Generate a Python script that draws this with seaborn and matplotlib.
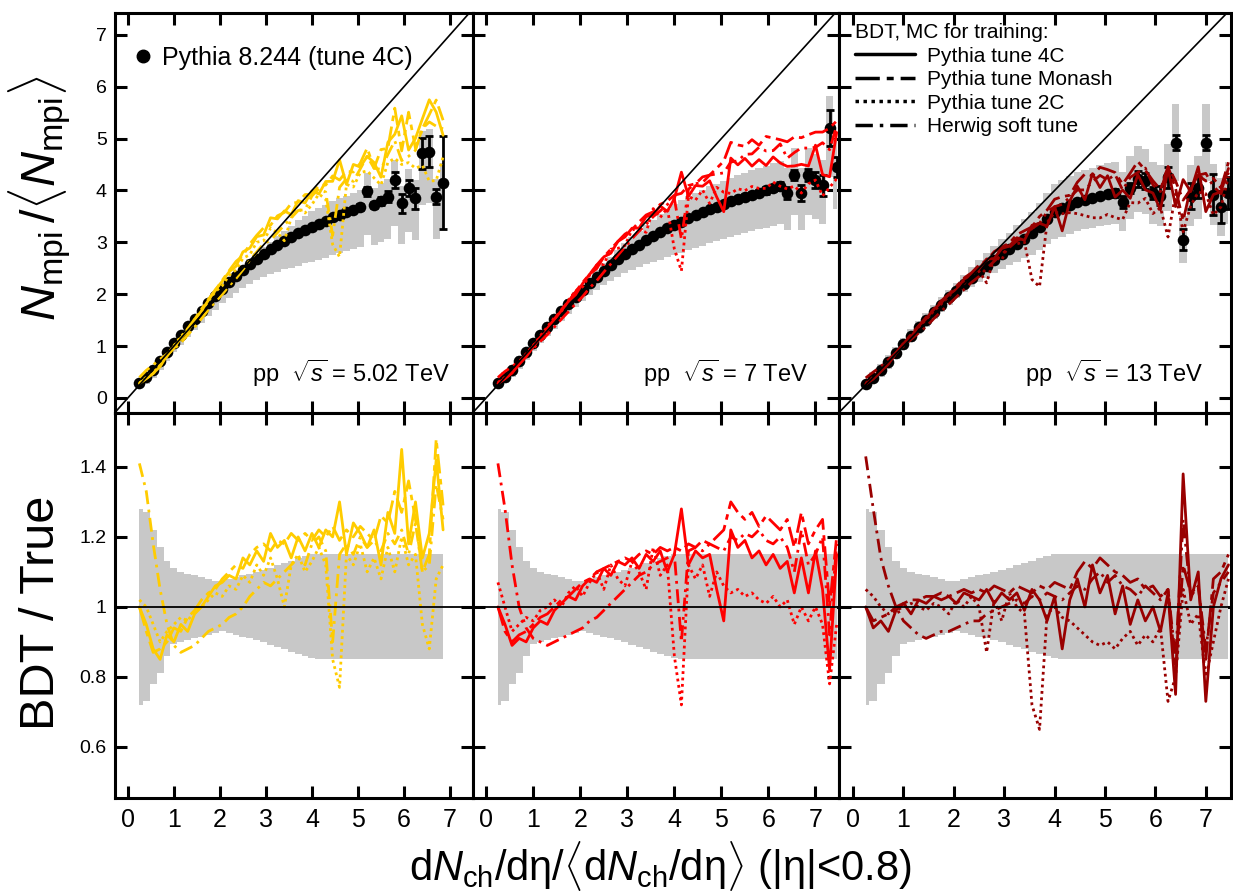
import numpy as np
import matplotlib
matplotlib.use("Agg")
import matplotlib.pyplot as plt
import seaborn as sns
from matplotlib.lines import Line2D

# bin centres of dNch/deta / <dNch/deta>
x_bins = [0.25, 0.40, 0.55, 0.70, 0.85, 1.00, 1.15, 1.30, 1.45, 1.60,
          1.75, 1.90, 2.05, 2.20, 2.35, 2.50, 2.65, 2.80, 2.95, 3.10,
          3.25, 3.40, 3.55, 3.70, 3.85, 4.00, 4.15, 4.30, 4.45, 4.60,
          4.75, 4.90, 5.05, 5.20, 5.35, 5.50, 5.65, 5.80, 5.95, 6.10,
          6.25, 6.40, 6.55, 6.70, 6.85, 7.00, 7.15, 7.30, 7.45]

# relative systematic band (BDT / True)
band_hi = [1.28, 1.27, 1.22, 1.17, 1.13, 1.11, 1.10, 1.095, 1.09, 1.085,
           1.08, 1.075, 1.075, 1.08, 1.085, 1.09, 1.095, 1.10, 1.105, 1.11,
           1.12, 1.125, 1.13, 1.14, 1.145, 1.15, 1.15, 1.15, 1.15, 1.15,
           1.15, 1.15, 1.15, 1.15, 1.15, 1.15, 1.15, 1.15, 1.15, 1.15,
           1.15, 1.15, 1.15, 1.15, 1.15, 1.15, 1.15, 1.15, 1.15]
band_lo = [0.72, 0.73, 0.78, 0.81, 0.86, 0.895, 0.90, 0.905, 0.91, 0.915,
           0.92, 0.925, 0.93, 0.925, 0.92, 0.915, 0.91, 0.905, 0.90, 0.89,
           0.885, 0.88, 0.87, 0.865, 0.86, 0.855, 0.85, 0.85, 0.85, 0.85,
           0.85, 0.85, 0.85, 0.85, 0.85, 0.85, 0.85, 0.85, 0.85, 0.85,
           0.85, 0.85, 0.85, 0.85, 0.85, 0.85, 0.85, 0.85, 0.85]

# ---- pp 5.02 TeV ----
truth_502 = [0.28, 0.40, 0.54, 0.71, 0.89, 1.06, 1.22, 1.38, 1.53, 1.68,
             1.83, 1.97, 2.10, 2.23, 2.35, 2.47, 2.58, 2.68, 2.78, 2.87,
             2.95, 3.03, 3.10, 3.17, 3.24, 3.30, 3.36, 3.42, 3.48, 3.53,
             3.58, 3.63, 3.68, 3.98, 3.72, 3.80, 3.88, 4.20, 3.75, 4.05,
             3.85, 4.72, 4.75, 3.88, 4.15]
err_502 = [0, 0, 0, 0, 0, 0, 0, 0, 0, 0,
           0, 0, 0, 0, 0, 0, 0, 0, 0, 0,
           0, 0, 0, 0, 0, 0.02, 0.02, 0.03, 0.03, 0.03,
           0.04, 0.04, 0.05, 0.08, 0.06, 0.08, 0.10, 0.15, 0.18, 0.15,
           0.20, 0.30, 0.30, 0.15, 0.90]
r502_4c = [1.00, 0.95, 0.88, 0.85, 0.92, 0.90, 0.95, 0.93, 0.98, 1.00,
           1.03, 1.06, 1.07, 1.09, 1.08, 1.14, 1.12, 1.16, 1.13, 1.21,
           1.17, 1.19, 1.14, 1.20, 1.16, 1.21, 1.17, 1.22, 1.20, 1.30,
           1.15, 1.24, 1.21, 1.17, 1.22, 1.12, 1.27, 1.21, 1.45, 1.18,
           1.30, 1.14, 1.21, 1.42, 1.22]
r502_monash = [1.00, 0.93, 0.87, 0.88, 0.90, 0.94, 0.93, 0.97, 0.99, 1.02,
               1.04, 1.05, 1.08, 1.10, 1.12, 1.11, 1.15, 1.17, 1.18, 1.16,
               1.19, 1.18, 1.21, 1.19, 1.21, 1.19, 1.22, 1.20, 1.23, 1.19,
               1.22, 1.20, 1.23, 1.21, 1.19, 1.26, 1.24, 1.33, 1.27, 1.36,
               1.25, 1.10, 1.15, 1.48, 1.29]
r502_2c = [1.02, 1.00, 0.95, 0.90, 0.93, 0.95, 0.97, 0.96, 0.99, 1.00,
           1.02, 1.04, 1.03, 1.06, 1.05, 1.09, 1.07, 1.12, 1.09, 1.14,
           1.08, 1.00, 1.12, 1.15, 1.10, 1.13, 1.17, 1.12, 0.85, 0.77,
           1.15, 1.12, 1.18, 1.10, 1.14, 1.08, 1.17, 1.10, 1.20, 1.12,
           1.15, 0.95, 0.88, 1.08, 1.12]
r502_herwig = [1.41, 1.33, 1.18, 1.05, 0.95, 0.89, 0.87, 0.88, 0.89, 0.91,
               0.93, 0.94, 0.95, 0.97, 0.98, 1.00, 1.03, 1.05, 1.07, 1.06,
               1.08, 1.10, 1.12, 1.14, 1.12, 1.18, 1.20, 1.16, 0.90, 1.15,
               1.18, 1.15, 1.20, 1.17, 1.19, 1.16, 1.21, 1.18, 1.22, 1.15,
               1.24, 1.10, 1.12, 1.35, 1.25]

# ---- pp 7 TeV ----
truth_7 = [0.28, 0.40, 0.54, 0.71, 0.88, 1.05, 1.21, 1.37, 1.52, 1.67,
           1.81, 1.95, 2.08, 2.21, 2.33, 2.45, 2.56, 2.67, 2.77, 2.87,
           2.95, 3.04, 3.12, 3.19, 3.27, 3.34, 3.40, 3.47, 3.53, 3.58,
           3.64, 3.69, 3.74, 3.79, 3.84, 3.88, 3.92, 3.96, 4.00, 4.04,
           4.08, 3.95, 4.30, 3.95, 4.30, 4.20, 4.10, 5.20, 4.45]
err_7 = [0, 0, 0, 0, 0, 0, 0, 0, 0, 0,
         0, 0, 0, 0, 0, 0, 0, 0, 0, 0,
         0, 0, 0, 0, 0, 0.02, 0.02, 0.02, 0.03, 0.03,
         0.03, 0.03, 0.04, 0.04, 0.04, 0.05, 0.05, 0.05, 0.06, 0.06,
         0.08, 0.12, 0.10, 0.15, 0.12, 0.15, 0.20, 0.35, 0.20]
r7_4c = [1.00, 0.95, 0.89, 0.91, 0.90, 0.94, 0.96, 0.95, 0.99, 1.01,
         1.03, 1.02, 1.06, 1.08, 1.07, 1.11, 1.09, 1.13, 1.12, 1.14,
         1.11, 1.15, 1.13, 1.16, 1.10, 1.15, 1.28, 1.12, 1.16, 1.14,
         1.15, 1.05, 0.96, 1.22, 1.17, 1.19, 1.14, 1.16, 1.12, 1.15,
         1.11, 1.13, 1.04, 1.14, 1.04, 1.16, 1.05, 0.82, 1.15]
r7_monash = [1.00, 0.93, 0.90, 0.92, 0.93, 0.95, 0.97, 0.98, 1.00, 1.02,
             1.03, 1.05, 1.07, 1.08, 1.10, 1.11, 1.12, 1.13, 1.14, 1.13,
             1.15, 1.16, 1.15, 1.17, 1.16, 1.17, 1.16, 1.18, 1.17, 1.19,
             1.18, 1.20, 1.22, 1.30, 1.27, 1.25, 1.27, 1.23, 1.26, 1.24,
             1.22, 1.25, 1.17, 1.27, 1.18, 1.22, 1.25, 1.00, 1.20]
r7_2c = [1.07, 1.00, 0.93, 0.95, 0.97, 0.96, 0.99, 1.00, 1.02, 1.00,
         1.04, 1.06, 1.03, 1.07, 1.10, 1.05, 1.12, 1.08, 1.06, 1.13,
         1.10, 1.05, 1.17, 1.09, 1.12, 0.86, 0.72, 1.12, 1.08, 1.12,
         1.03, 1.10, 1.06, 1.04, 1.05, 1.03, 1.04, 1.02, 1.01, 1.03,
         1.00, 1.02, 0.95, 1.00, 0.96, 1.00, 0.95, 0.78, 0.95]
r7_herwig = [1.41, 1.28, 1.12, 1.00, 0.94, 0.91, 0.90, 0.89, 0.90, 0.91,
             0.92, 0.93, 0.94, 0.96, 0.97, 0.99, 1.01, 1.03, 1.05, 1.07,
             1.09, 1.10, 1.12, 1.13, 1.14, 1.15, 0.90, 1.16, 1.17, 1.16,
             1.18, 1.17, 1.16, 1.20, 1.19, 1.21, 1.20, 1.22, 1.19, 1.18,
             1.20, 1.17, 1.10, 1.22, 1.12, 1.15, 1.20, 0.92, 1.18]

# ---- pp 13 TeV ----
truth_13 = [0.27, 0.39, 0.53, 0.70, 0.87, 1.04, 1.20, 1.36, 1.51, 1.66,
            1.80, 1.94, 2.07, 2.20, 2.32, 2.44, 2.55, 2.66, 2.77, 2.87,
            2.97, 3.07, 3.17, 3.30, 3.45, 3.58, 3.66, 3.72, 3.78, 3.82,
            3.86, 3.90, 3.93, 3.95, 3.78, 4.05, 4.22, 4.18, 3.95, 3.90,
            4.25, 4.92, 3.05, 3.90, 4.05, 4.92, 3.92, 3.68, 3.95]
err_13 = [0, 0, 0, 0, 0, 0, 0, 0, 0, 0,
          0, 0, 0, 0, 0, 0, 0, 0, 0, 0,
          0, 0, 0, 0, 0, 0.02, 0.02, 0.03, 0.03, 0.04,
          0.04, 0.05, 0.06, 0.08, 0.12, 0.10, 0.15, 0.15, 0.12, 0.18,
          0.20, 0.15, 0.20, 0.25, 0.20, 0.15, 0.40, 0.30, 0.30]
r13_4c = [1.00, 0.94, 0.96, 0.93, 0.99, 1.01, 0.98, 1.02, 1.01, 1.03,
          1.02, 1.03, 1.01, 1.04, 1.03, 1.02, 1.05, 1.01, 1.04, 1.02,
          1.04, 0.99, 1.05, 1.02, 0.96, 1.03, 0.88, 1.02, 1.08, 1.00,
          1.12, 1.04, 1.09, 0.98, 1.06, 0.95, 1.02, 0.96, 1.00, 0.93,
          1.04, 0.75, 1.38, 1.02, 1.10, 0.73, 1.00, 1.08, 1.12]
r13_monash = [1.00, 0.96, 0.97, 0.98, 1.00, 1.01, 1.02, 1.02, 1.03, 1.03,
              1.04, 1.03, 1.04, 1.05, 1.04, 1.05, 1.04, 1.06, 1.05, 1.04,
              1.06, 1.05, 1.04, 1.06, 1.05, 1.07, 1.06, 1.05, 1.10, 1.13,
              1.11, 1.14, 1.12, 1.10, 1.09, 1.07, 1.08, 1.05, 1.06, 1.03,
              1.05, 0.82, 1.12, 1.04, 1.06, 0.85, 1.08, 1.10, 1.15]
r13_2c = [1.05, 1.03, 1.00, 0.98, 0.99, 1.00, 1.01, 1.00, 0.99, 1.01,
          1.00, 0.98, 1.02, 1.00, 1.03, 1.00, 0.87, 1.02, 0.96, 1.04,
          1.00, 0.98, 0.72, 0.65, 0.98, 1.00, 0.97, 0.96, 0.94, 0.92,
          0.90, 0.89, 0.90, 0.88, 0.91, 0.93, 0.89, 0.92, 0.90, 0.94,
          0.73, 0.80, 1.05, 0.95, 0.98, 0.80, 0.90, 1.00, 1.08]
r13_herwig = [1.43, 1.28, 1.14, 1.06, 1.00, 0.96, 0.94, 0.92, 0.91, 0.92,
              0.93, 0.93, 0.94, 0.95, 0.96, 0.96, 0.98, 0.99, 1.00, 1.01,
              1.02, 1.01, 1.03, 1.02, 1.04, 1.03, 1.02, 1.04, 1.06, 1.05,
              1.08, 1.10, 1.07, 1.09, 1.06, 1.05, 1.03, 1.06, 1.04, 1.02,
              1.05, 0.85, 1.25, 1.03, 1.06, 0.88, 1.04, 1.07, 1.10]

tune_names = ["Pythia tune 4C", "Pythia tune Monash", "Pythia tune 2C", "Herwig soft tune"]
tune_styles = ["-", (0, (7, 2, 2, 2)), (0, (1, 1.3)), (0, (5, 2, 1, 2))]

panels = [
    dict(label="5.02", color="#ffcc00", truth=truth_502, err=err_502,
         ratios=[r502_4c, r502_monash, r502_2c, r502_herwig], shift=0.06, tx=0.935),
    dict(label="7", color="#ff0000", truth=truth_7, err=err_7,
         ratios=[r7_4c, r7_monash, r7_2c, r7_herwig], shift=0.03, tx=0.915),
    dict(label="13", color="#990000", truth=truth_13, err=err_13,
         ratios=[r13_4c, r13_monash, r13_2c, r13_herwig], shift=0.0, tx=0.93),
]

GRAY = "#c8c8c8"
FONT = ["Liberation Sans", "DejaVu Sans"]

sns.set_style("ticks")
plt.rcParams["font.family"] = FONT
plt.rcParams["mathtext.fontset"] = "custom"
plt.rcParams["mathtext.rm"] = "Liberation Sans"
plt.rcParams["mathtext.it"] = "Liberation Sans:italic"
plt.rcParams["mathtext.sf"] = "Liberation Sans"
plt.rcParams["axes.linewidth"] = 2.2
plt.rcParams["axes.edgecolor"] = "black"
plt.rcParams["text.color"] = "black"
plt.rcParams["xtick.color"] = "black"
plt.rcParams["ytick.color"] = "black"

fig = plt.figure(figsize=(12.33, 8.96), dpi=100)
gs = fig.add_gridspec(2, 3, left=115 / 1233, right=1231 / 1233, top=1 - 13 / 896,
                      bottom=1 - 798 / 896, wspace=0, hspace=0,
                      width_ratios=[358, 366, 392], height_ratios=[400, 385])

for j, p in enumerate(panels):
    ax_t = fig.add_subplot(gs[0, j])
    ax_b = fig.add_subplot(gs[1, j])
    n = len(p["truth"])
    x = np.array(x_bins[:n])
    t = np.array(p["truth"])
    e = np.array(p["err"])
    lo = np.array(band_lo[:n])
    hi = np.array(band_hi[:n])

    # top: Nmpi / <Nmpi>
    ax_t.fill_between(x, t * (lo - p["shift"]), t * (hi - p["shift"]), step="mid",
                      color=GRAY, lw=0, zorder=1)
    m = e > 0
    ax_t.errorbar(x[m], t[m], yerr=e[m], fmt="none", ecolor="black", elinewidth=2,
                  capsize=3, capthick=2, zorder=3)
    sns.scatterplot(x=x, y=t, ax=ax_t, color="black", s=70, linewidth=0, zorder=3,
                    legend=False)
    for r, ls in zip(p["ratios"], tune_styles):
        sns.lineplot(x=x, y=t * np.array(r), ax=ax_t, color=p["color"], lw=2,
                     linestyle=ls, estimator=None, sort=False, zorder=4)
    ax_t.axline((0, 0), slope=1, color="black", lw=1.2, zorder=5)

    # bottom: BDT / True
    ax_b.fill_between(x, lo, hi, step="mid", color=GRAY, lw=0, zorder=1)
    for r, ls in zip(p["ratios"], tune_styles):
        sns.lineplot(x=x, y=r, ax=ax_b, color=p["color"], lw=2, linestyle=ls,
                     estimator=None, sort=False, zorder=4)
    ax_b.axhline(1, color="black", lw=1.3, zorder=5)

    ax_t.set_xlim(-0.28, 7.5)
    ax_b.set_xlim(-0.28, 7.5)
    ax_t.set_ylim(-0.29, 7.42)
    ax_b.set_ylim(0.454, 1.554)
    ax_t.set_xticks(range(8))
    ax_b.set_xticks(range(8))
    ax_t.set_yticks(range(8))
    ax_b.set_yticks([0.6, 0.8, 1.0, 1.2, 1.4])
    ax_b.set_yticklabels(["0.6", "0.8", "1", "1.2", "1.4"])
    for ax in (ax_t, ax_b):
        ax.set_xlabel("")
        ax.set_ylabel("")
        ax.tick_params(direction="in", length=8.5, width=2.2, top=True, right=True,
                       labelsize=14, pad=6)
        ax.tick_params(axis="x", labelsize=18, pad=7)
        if j > 0:
            ax.tick_params(labelleft=False)
    ax_t.tick_params(labelbottom=False)

    ax_t.text(p["tx"], 0.10, r"pp  $\sqrt{s}$ = %s TeV" % p["label"], transform=ax_t.transAxes,
              ha="right", va="center", fontsize=17)

    if j == 0:
        h = [Line2D([], [], color="black", marker="o", ls="none", ms=9)]
        ax_t.legend(h, ["Pythia 8.244 (tune 4C)"], loc="center left",
                    bbox_to_anchor=(0.05, 0.888), frameon=False, fontsize=18,
                    handlelength=0.8, handletextpad=0.35, borderpad=0, borderaxespad=0)
    if j == 2:
        h = [Line2D([], [], color="black", lw=2.5, ls=ls) for ls in tune_styles]
        ax_t.legend(h, tune_names, title="BDT, MC for training:", loc="upper left",
                    bbox_to_anchor=(0.04, 0.975), frameon=False, fontsize=15,
                    title_fontsize=15, handlelength=2.9, handletextpad=0.55,
                    labelspacing=0.22, borderpad=0, borderaxespad=0,
                    alignment="left")

fig.text(0.032, 1 - 198 / 896, r"$N_{\rm mpi}\,/\langle N_{\rm mpi}\rangle$", rotation=90,
         ha="center", va="center", fontsize=35)
fig.text(0.034, 1 - 613 / 896, "BDT / True", rotation=90, ha="center", va="center",
         fontsize=35)
fig.text(660 / 1233, 1 - 866 / 896,
         r"d$N_{\rm ch}$/d$\mathrm{\eta}$/$\langle$d$N_{\rm ch}$/d$\mathrm{\eta}\rangle$ (|$\mathrm{\eta}$|<0.8)",
         ha="center", va="center", fontsize=30)

fig.savefig("out.png", dpi=100)
